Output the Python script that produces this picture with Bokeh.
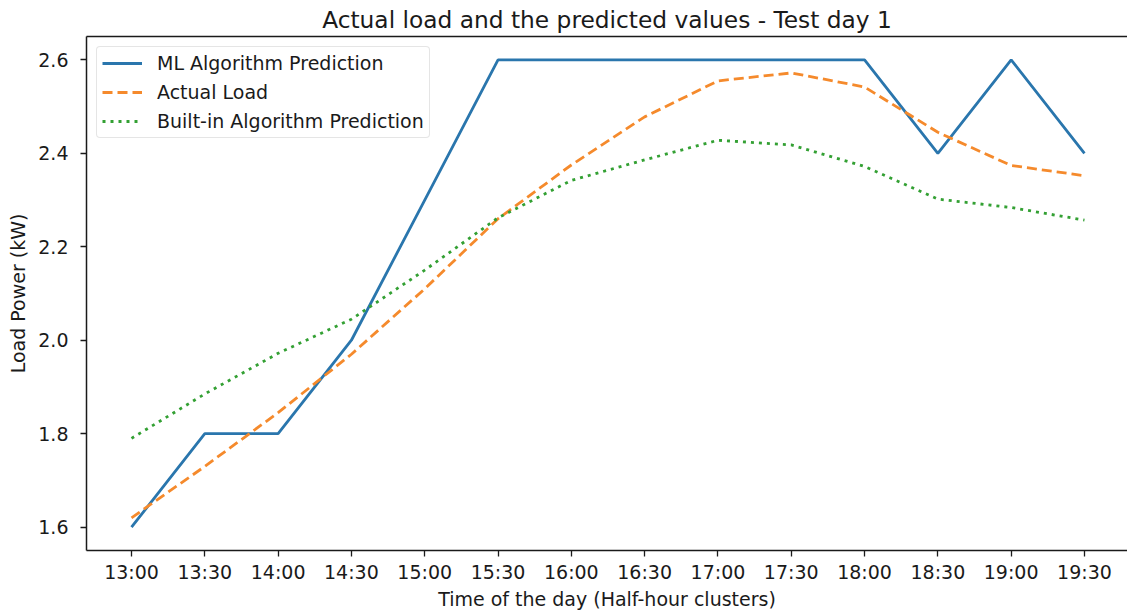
from bokeh.plotting import figure
from bokeh.models import FixedTicker, LinearAxis, Range1d, Legend, LegendItem
from bokeh.embed import file_html
from bokeh.resources import INLINE

times = ["13:00", "13:30", "14:00", "14:30", "15:00", "15:30", "16:00",
         "16:30", "17:00", "17:30", "18:00", "18:30", "19:00", "19:30"]
ml_prediction = [1.6, 1.8, 1.8, 2.0, 2.3, 2.6, 2.6, 2.6, 2.6, 2.6, 2.6, 2.4, 2.6, 2.4]
actual_load = [1.62, 1.73, 1.845, 1.97, 2.11, 2.26, 2.375, 2.478, 2.555, 2.572, 2.542, 2.445, 2.374, 2.352]
builtin_prediction = [1.79, 1.885, 1.972, 2.045, 2.15, 2.262, 2.342, 2.386, 2.428, 2.418, 2.372, 2.302, 2.284, 2.257]
yticks = [1.6, 1.8, 2.0, 2.2, 2.4, 2.6]

FONT = "DejaVu Sans"
idx = list(range(len(times)))

p = figure(width=1127, height=613, output_backend="svg", toolbar_location=None,
           x_range=Range1d(-0.614, 13.587), y_range=Range1d(1.55, 2.65),
           min_border_left=86, min_border_right=0, min_border_top=36, min_border_bottom=63)
p.title.text = "Actual load and the predicted values - Test day 1"
p.title.text_font = FONT
p.title.text_font_size = "23.3px"
p.title.text_font_style = "normal"
p.title.align = "center"
p.title.offset = 10
p.title.standoff = 7
p.title.text_color = "#1a1a1a"
p.outline_line_color = None
p.xgrid.visible = False
p.ygrid.visible = False
p.background_fill_color = "white"

r1 = p.line(idx, ml_prediction, line_color="#2a76ad", line_width=2.8)
r2 = p.line(idx, actual_load, line_color="#f58a2c", line_width=2.8, line_dash="10 5")
r3 = p.line(idx, builtin_prediction, line_color="#33a033", line_width=2.8, line_dash="3 5")

for ax in (p.xaxis[0], p.yaxis[0]):
    ax.axis_line_color = "#1a1a1a"
    ax.axis_line_width = 1.5
    ax.major_tick_out = 6
    ax.major_tick_in = 0
    ax.major_tick_line_width = 1.3
    ax.minor_tick_line_color = None
    ax.major_tick_line_color = "#1a1a1a"
    ax.major_label_text_font = FONT
    ax.major_label_text_font_size = "19px"
    ax.major_label_text_color = "#1a1a1a"
    ax.axis_label_text_font = FONT
    ax.axis_label_text_font_size = "19px"
    ax.axis_label_text_font_style = "normal"
    ax.axis_label_text_color = "#1a1a1a"

p.xaxis.ticker = FixedTicker(ticks=idx)
p.xaxis.major_label_overrides = {i: t for i, t in zip(idx, times)}
p.xaxis.axis_label = "Time of the day (Half-hour clusters)"
p.xaxis.major_label_standoff = 4
p.xaxis.axis_label_standoff = 2

p.yaxis.ticker = FixedTicker(ticks=yticks)
p.yaxis.major_label_overrides = {t: f"{t:.1f}" for t in yticks}
p.yaxis.axis_label = "Load Power (kW)"
p.yaxis.major_label_standoff = 12
p.yaxis.axis_label_standoff = 6

top = LinearAxis(axis_line_color="#1a1a1a", axis_line_width=1.5, major_tick_line_color=None,
                 minor_tick_line_color=None, major_label_text_font_size="0px",
                 major_label_text_color=None, ticker=FixedTicker(ticks=[]))
p.add_layout(top, "above")

legend = Legend(items=[LegendItem(label="ML Algorithm Prediction", renderers=[r1]),
                       LegendItem(label="Actual Load", renderers=[r2]),
                       LegendItem(label="Built-in Algorithm Prediction", renderers=[r3])],
                location="top_left")
legend.label_text_font = FONT
legend.label_text_font_size = "19px"
legend.label_text_color = "#1a1a1a"
legend.glyph_width = 40
legend.glyph_height = 22
legend.label_height = 22
legend.label_standoff = 15
legend.spacing = 7
legend.padding = 5
legend.margin = 10
legend.border_line_color = "#cccccc"
legend.border_radius = 4
legend.background_fill_alpha = 0.8
p.add_layout(legend)

open("out.html", "w").write(file_html(p, INLINE))
